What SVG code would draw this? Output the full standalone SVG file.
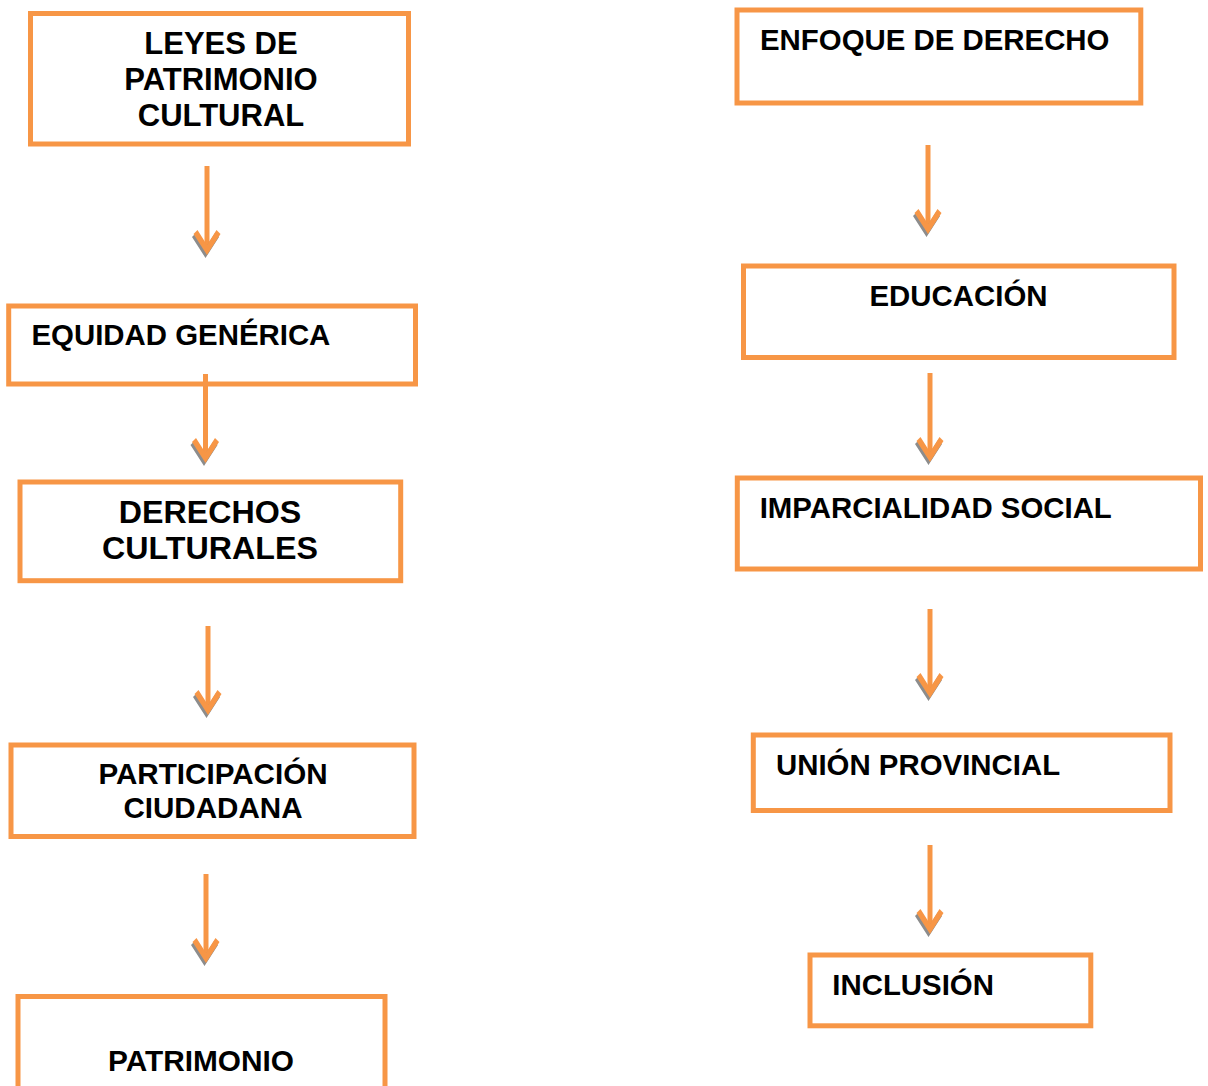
<svg xmlns="http://www.w3.org/2000/svg" width="1208" height="1086" viewBox="0 0 1208 1086">
<style>
.box{fill:#ffffff;stroke:#F79646;stroke-width:5}
.t{font-family:"Liberation Sans",Arial,sans-serif;font-weight:bold;font-size:29.4px;fill:#000000}
.c{text-anchor:middle}
.conn{stroke:#F79646;stroke-width:5;fill:none;marker-end:url(#arr)}
</style>
<defs>
<marker id="arr" markerUnits="userSpaceOnUse" markerWidth="40" markerHeight="40" refX="0" refY="0" orient="auto" overflow="visible">
<polygon transform="translate(3,1.5)" points="8,0 -13,-13.5 -17,-9.5 -2,0 -17,9.5 -13,13.5" fill="#8c8c8c"/>
<polygon points="8,0 -13,-13.5 -17,-9.5 -2,0 -17,9.5 -13,13.5" fill="#F79646"/>
</marker>
</defs>
<rect width="1208" height="1086" fill="#ffffff"/>
<g id="n1"><rect class="box" x="30.5" y="13.5" width="378" height="130.5"/>
<text class="t c" x="221" y="54" style="font-size:31px">LEYES DE</text>
<text class="t c" x="221" y="90" style="font-size:31px">PATRIMONIO</text>
<text class="t c" x="221" y="126" style="font-size:31px">CULTURAL</text></g>
<g id="n2"><rect class="box" x="8.7" y="306" width="406.8" height="78"/>
<text class="t" x="31.5" y="345">EQUIDAD GENÉRICA</text></g>
<g id="n3"><rect class="box" x="20" y="482" width="380.7" height="98.7"/>
<text class="t c" x="210" y="523" style="font-size:32.2px">DERECHOS</text>
<text class="t c" x="210" y="558.5" style="font-size:32.2px">CULTURALES</text></g>
<g id="n4"><rect class="box" x="11" y="745" width="403" height="91.5"/>
<text class="t c" x="213" y="784.3" style="font-size:29.6px">PARTICIPACIÓN</text>
<text class="t c" x="213" y="817.7" style="font-size:29.6px">CIUDADANA</text></g>
<g id="n5"><rect class="box" x="18" y="996.5" width="367" height="130"/>
<text class="t c" x="201" y="1070.5" style="font-size:29.8px">PATRIMONIO</text></g>
<g id="n6"><rect class="box" x="737" y="10" width="403.8" height="93"/>
<text class="t" x="760" y="50">ENFOQUE DE DERECHO</text></g>
<g id="n7"><rect class="box" x="743.5" y="266" width="430.5" height="91.5"/>
<text class="t c" x="958.5" y="306">EDUCACIÓN</text></g>
<g id="n8"><rect class="box" x="737.3" y="478" width="463.2" height="91"/>
<text class="t" x="759.7" y="518.3">IMPARCIALIDAD SOCIAL</text></g>
<g id="n9"><rect class="box" x="753.3" y="735" width="416.7" height="75.5"/>
<text class="t" x="776" y="775">UNIÓN PROVINCIAL</text></g>
<g id="n10"><rect class="box" x="810" y="955" width="280.8" height="70.8"/>
<text class="t" x="832.3" y="995">INCLUSIÓN</text></g>
<g id="connectors">
<line class="conn" x1="207" y1="166" x2="207" y2="247"/>
<line class="conn" x1="205.5" y1="374" x2="205.5" y2="455"/>
<line class="conn" x1="208" y1="626" x2="208" y2="707"/>
<line class="conn" x1="206" y1="874" x2="206" y2="955"/>
<line class="conn" x1="928" y1="145" x2="928" y2="226"/>
<line class="conn" x1="930" y1="373" x2="930" y2="454"/>
<line class="conn" x1="930" y1="609" x2="930" y2="690"/>
<line class="conn" x1="930" y1="845" x2="930" y2="926"/>
</g>
</svg>
